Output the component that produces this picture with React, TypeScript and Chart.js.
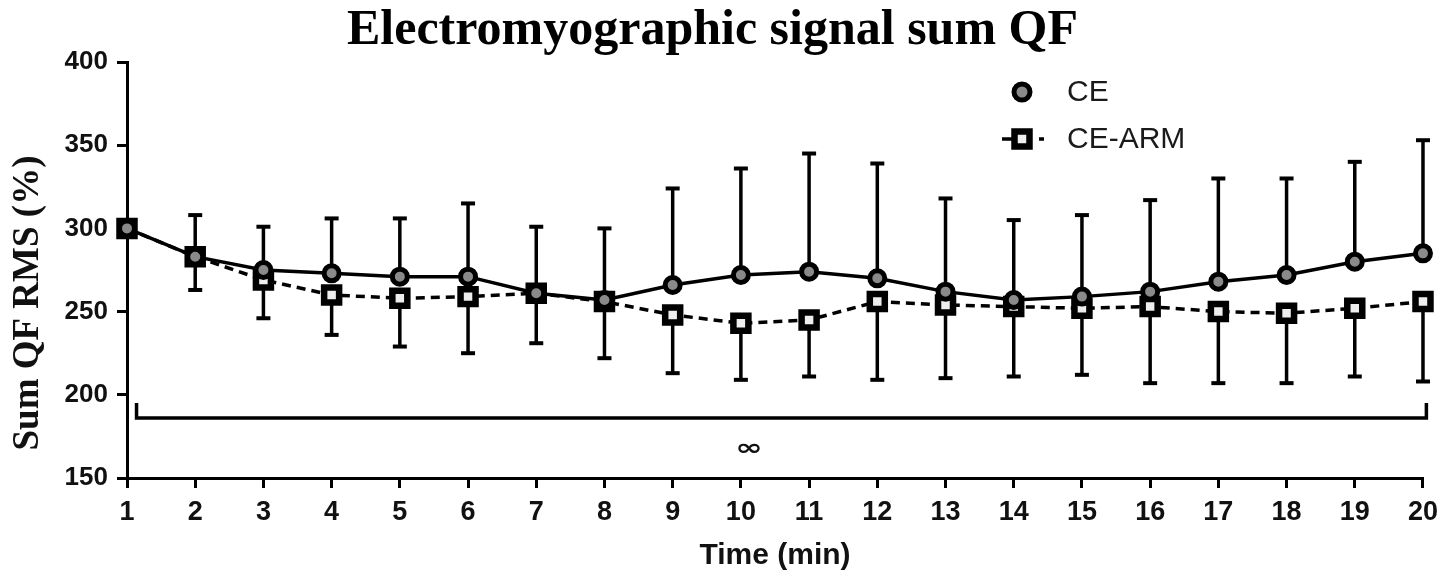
import React, { useEffect, useRef } from "react";
import { Chart, registerables } from "chart.js";

Chart.register(...registerables);

// ---------------- data ----------------
const TIME_MIN = [1, 2, 3, 4, 5, 6, 7, 8, 9, 10, 11, 12, 13, 14, 15, 16, 17, 18, 19, 20];
const CE_MEAN = [300, 283, 275, 273, 271, 271, 261, 257, 266, 272, 274, 270, 262, 257, 259, 262, 268, 272, 280, 285];
const CE_UPPER = [300, 308, 301, 306, 306, 315, 301, 300, 324, 336, 345, 339, 318, 305, 308, 317, 330, 330, 340, 353];
const CEARM_MEAN = [300, 283, 269, 260, 258, 259, 261, 256, 248, 243, 245, 256, 254, 253, 252, 253, 250, 249, 252, 256];
const CEARM_LOWER = [300, 263, 246, 236, 229, 225, 231, 222, 213, 209, 211, 209, 210, 211, 212, 207, 207, 207, 211, 208];
const Y_MIN = 150;
const Y_MAX = 400;
const Y_STEP = 50;
const SERIES_LABELS = ["CE", "CE-ARM"];
const TITLE = "Electromyographic signal sum QF";
const X_TITLE = "Time (min)";
const Y_TITLE = "Sum QF RMS (%)";
// significance bracket (data units) and its symbol
const BRACKET_FROM = 1.14;
const BRACKET_TO = 20.05;
const BRACKET_LEVEL = 186;
const BRACKET_TIP = 195;
const SIG_SYMBOL = "∞";
const SIG_X = 10.12;
const SIG_Y = 167.5;

const INK = "#111";
const CIRCLE_FILL = "#8a8a8a";
const SQUARE_FILL = "#eeeeee";
const DASH = [9, 6];

const overlayPlugin = {
  id: "overlay",
  beforeDatasetsDraw(chart: any) {
    const { ctx } = chart;
    const xs = chart.scales.x;
    const ys = chart.scales.y;
    ctx.save();
    ctx.strokeStyle = "#000";
    ctx.lineCap = "butt";
    const cap = 7;
    const bar = (px: number, from: number, to: number) => {
      const y0 = ys.getPixelForValue(from);
      const y1 = ys.getPixelForValue(to);
      ctx.lineWidth = 3.5;
      ctx.beginPath();
      ctx.moveTo(px, y0);
      ctx.lineTo(px, y1);
      ctx.stroke();
      ctx.lineWidth = 4;
      ctx.beginPath();
      ctx.moveTo(px - cap, y1);
      ctx.lineTo(px + cap, y1);
      ctx.stroke();
    };
    TIME_MIN.forEach((t, i) => {
      const px = xs.getPixelForValue(t);
      if (CE_UPPER[i] !== CE_MEAN[i]) bar(px, CE_MEAN[i], CE_UPPER[i]);
      if (CEARM_LOWER[i] !== CEARM_MEAN[i]) bar(px, CEARM_MEAN[i], CEARM_LOWER[i]);
    });
    // bracket
    const bx0 = xs.getPixelForValue(BRACKET_FROM);
    const bx1 = xs.getPixelForValue(BRACKET_TO);
    const by = ys.getPixelForValue(BRACKET_LEVEL);
    const bt = ys.getPixelForValue(BRACKET_TIP);
    ctx.lineWidth = 3.5;
    ctx.lineJoin = "miter";
    ctx.beginPath();
    ctx.moveTo(bx0, bt);
    ctx.lineTo(bx0, by);
    ctx.lineTo(bx1, by);
    ctx.lineTo(bx1, bt);
    ctx.stroke();
    ctx.restore();
  },
  afterDraw(chart: any) {
    const { ctx } = chart;
    const xs = chart.scales.x;
    const ys = chart.scales.y;
    ctx.save();
    // significance symbol
    ctx.save();
    ctx.translate(xs.getPixelForValue(SIG_X), ys.getPixelForValue(SIG_Y));
    ctx.scale(1.1, 0.75);
    ctx.fillStyle = INK;
    ctx.font = "bold 30px 'DejaVu Sans'";
    ctx.textAlign = "center";
    ctx.textBaseline = "middle";
    ctx.fillText(SIG_SYMBOL, 0, 0);
    ctx.restore();

    // y axis title
    ctx.save();
    ctx.translate(28, 303);
    ctx.rotate(-Math.PI / 2);
    ctx.font = "bold 37px 'Liberation Serif'";
    ctx.fillStyle = INK;
    ctx.textAlign = "center";
    ctx.textBaseline = "middle";
    ctx.fillText(Y_TITLE, 0, 0);
    ctx.restore();

    // legend
    const lx = 1022;
    const ly1 = 92;
    const ly2 = 139;
    ctx.strokeStyle = "#000";
    // CE
    ctx.lineWidth = 5;
    ctx.fillStyle = CIRCLE_FILL;
    ctx.beginPath();
    ctx.arc(lx, ly1, 8, 0, Math.PI * 2);
    ctx.fill();
    ctx.stroke();
    // CE-ARM
    ctx.lineWidth = 3.5;
    ctx.beginPath();
    ctx.moveTo(1002, ly2);
    ctx.lineTo(1012, ly2);
    ctx.moveTo(1039, ly2);
    ctx.lineTo(1044, ly2);
    ctx.stroke();
    ctx.lineWidth = 6.5;
    ctx.fillStyle = SQUARE_FILL;
    ctx.beginPath();
    ctx.rect(lx - 7.5, ly2 - 7.5, 15, 15);
    ctx.fill();
    ctx.stroke();
    ctx.fillStyle = "#1a1a1a";
    ctx.font = "30px 'Liberation Sans'";
    ctx.textAlign = "left";
    ctx.textBaseline = "middle";
    ctx.fillText(SERIES_LABELS[0], 1067, ly1 + 1);
    ctx.fillText(SERIES_LABELS[1], 1067, ly2 + 1);
    ctx.restore();
  },
};

export default function App() {
  const canvasRef = useRef<HTMLCanvasElement | null>(null);

  useEffect(() => {
    document.body.style.margin = "0";
    document.body.style.overflow = "hidden";
    const canvas = canvasRef.current;
    if (!canvas) return;
    const chart = new Chart(canvas, {
      type: "line",
      data: {
        datasets: [
          {
            label: SERIES_LABELS[0],
            data: TIME_MIN.map((t, i) => ({ x: t, y: CE_MEAN[i] })),
            borderColor: "#000",
            borderWidth: 3.5,
            tension: 0,
            pointStyle: "circle",
            pointRadius: 7.5,
            pointBorderWidth: 5,
            pointBackgroundColor: CIRCLE_FILL,
            pointBorderColor: "#000",
            clip: false,
            order: 0,
          },
          {
            label: SERIES_LABELS[1],
            data: TIME_MIN.map((t, i) => ({ x: t, y: CEARM_MEAN[i] })),
            borderColor: "#000",
            borderWidth: 3.5,
            borderDash: DASH,
            tension: 0,
            pointStyle: "rect",
            pointRadius: 10.6,
            pointBorderWidth: 6.5,
            pointBackgroundColor: SQUARE_FILL,
            pointBorderColor: "#000",
            clip: false,
            order: 1,
          },
        ],
      },
      options: {
        responsive: false,
        maintainAspectRatio: false,
        devicePixelRatio: 1,
        animation: false,
        events: [],
        layout: { padding: { left: 0, right: 21, top: 0, bottom: 0 } },
        plugins: {
          legend: { display: false },
          tooltip: { enabled: false },
          title: {
            display: true,
            text: TITLE,
            color: "#000",
            font: { family: "'Liberation Serif', serif", size: 50, weight: "bold", lineHeight: 1 },
            padding: { top: 6, bottom: 6 },
          },
        },
        scales: {
          x: {
            type: "linear",
            min: TIME_MIN[0],
            max: TIME_MIN[TIME_MIN.length - 1],
            afterFit: (s: any) => {
              s.height = 97;
            },
            ticks: {
              stepSize: 1,
              autoSkip: false,
              color: INK,
              padding: 8,
              font: { family: "'Liberation Sans', Arial, sans-serif", size: 27, weight: "bold" },
            },
            grid: {
              display: true,
              drawOnChartArea: false,
              drawTicks: true,
              tickLength: 10,
              lineWidth: 3,
              color: "#000",
            },
            border: { display: true, width: 3, color: "#000" },
            title: {
              display: true,
              text: X_TITLE,
              color: INK,
              font: { family: "'Liberation Sans', Arial, sans-serif", size: 30, weight: "bold" },
              padding: { top: 0, bottom: 1 },
            },
          },
          y: {
            type: "linear",
            min: Y_MIN,
            max: Y_MAX,
            afterFit: (s: any) => {
              s.width = 127;
            },
            ticks: {
              stepSize: Y_STEP,
              color: INK,
              padding: 9,
              font: { family: "'Liberation Sans', Arial, sans-serif", size: 26, weight: "bold" },
            },
            grid: {
              display: true,
              drawOnChartArea: false,
              drawTicks: true,
              tickLength: 10,
              lineWidth: 3,
              color: "#000",
            },
            border: { display: true, width: 3, color: "#000" },
          },
        },
      },
      plugins: [overlayPlugin],
    } as any);
    return () => {
      chart.destroy();
    };
  }, []);

  return (
    <div style={{ width: 1446, height: 575, overflow: "hidden", background: "#fff" }}>
      <canvas ref={canvasRef} width={1446} height={575} style={{ display: "block" }} />
    </div>
  );
}
